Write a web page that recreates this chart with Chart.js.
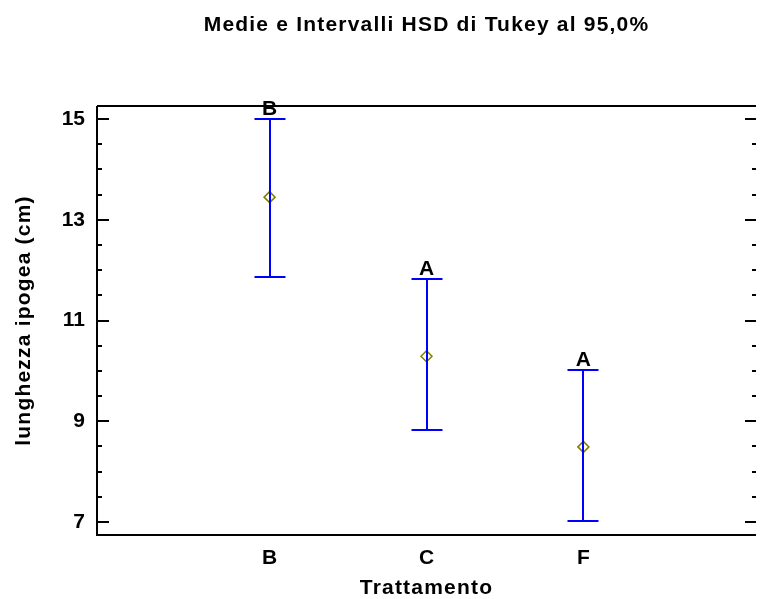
<!DOCTYPE html>
<html><head><meta charset="utf-8">
<script src="https://cdn.jsdelivr.net/npm/chart.js@4.4.0/dist/chart.umd.min.js"></script>
<style>html,body{margin:0;padding:0;background:#fff;} canvas{display:block;}</style>
</head><body>
<canvas id="c" width="763" height="599"></canvas>
<script>
// ---- data ----
const categories = ['B', 'C', 'F'];
const categoryPos = [1, 2, 3];
const means = [13.45, 10.29, 8.49];
const lowerLimits = [11.86, 8.82, 7.02];
const upperLimits = [15.0, 11.82, 10.02];
const groupLetters = ['B', 'A', 'A'];
const yTickValues = [7, 9, 11, 13, 15];
const yMinorPerMajor = 4;

const FONT = "'Liberation Sans', Arial, sans-serif";
const SIZE = 21;
const SPACING = '1.2px';

const spacingPlugin = {
  id: 'spacing',
  beforeUpdate(chart) { chart.ctx.letterSpacing = SPACING; },
  afterUpdate(chart) {
    ['x', 'y'].forEach(id => {
      const s = chart.scales[id];
      if (s && !s._noSpacing) {
        const orig = s.drawLabels;
        s.drawLabels = function (area) {
          const ctx = this.ctx;
          const prev = ctx.letterSpacing;
          ctx.letterSpacing = '0px';
          orig.call(this, area);
          ctx.letterSpacing = prev;
        };
        s._noSpacing = true;
      }
    });
  },
  beforeDraw(chart) { chart.ctx.letterSpacing = SPACING; }
};

const framePlugin = {
  id: 'frame',
  afterDatasetsDraw(chart) {
    const { ctx, chartArea: a, scales: { x, y } } = chart;
    ctx.save();
    // error bars
    ctx.strokeStyle = '#0000ff';
    ctx.lineWidth = 2;
    const capHalf = 15.5;
    categoryPos.forEach((p, i) => {
      const px = Math.round(x.getPixelForValue(p));
      const yl = Math.round(y.getPixelForValue(lowerLimits[i]));
      const yu = Math.round(y.getPixelForValue(upperLimits[i]));
      ctx.beginPath();
      ctx.moveTo(px, yl); ctx.lineTo(px, yu);
      ctx.moveTo(px - capHalf, yu); ctx.lineTo(px + capHalf, yu);
      ctx.moveTo(px - capHalf, yl); ctx.lineTo(px + capHalf, yl);
      ctx.stroke();
    });
    // group letters
    ctx.letterSpacing = '0px';
    ctx.fillStyle = '#000';
    ctx.font = 'bold ' + SIZE + 'px ' + FONT;
    ctx.textAlign = 'center';
    ctx.textBaseline = 'alphabetic';
    categoryPos.forEach((p, i) => {
      const px = x.getPixelForValue(p);
      const yu = y.getPixelForValue(upperLimits[i]);
      ctx.fillText(groupLetters[i], px, yu - 4);
    });
    // frame
    ctx.strokeStyle = '#000';
    ctx.lineWidth = 2;
    ctx.beginPath();
    ctx.moveTo(a.left, a.top); ctx.lineTo(a.left, a.bottom); ctx.lineTo(a.right, a.bottom);
    ctx.moveTo(a.left, a.top); ctx.lineTo(a.right, a.top);
    ctx.stroke();
    // ticks
    ctx.beginPath();
    for (let k = 0; k < yTickValues.length; k++) {
      const v = yTickValues[k];
      const py = Math.round(y.getPixelForValue(v));
      ctx.moveTo(a.left, py); ctx.lineTo(a.left + 12, py);
      ctx.moveTo(a.right - 11, py); ctx.lineTo(a.right, py);
      if (k < yTickValues.length - 1) {
        const step = (yTickValues[k + 1] - v) / yMinorPerMajor;
        for (let m = 1; m < yMinorPerMajor; m++) {
          const my = Math.round(y.getPixelForValue(v + m * step));
          ctx.moveTo(a.left, my); ctx.lineTo(a.left + 5, my);
          ctx.moveTo(a.right - 4, my); ctx.lineTo(a.right, my);
        }
      }
    }
    ctx.stroke();
    ctx.restore();
  }
};

new Chart(document.getElementById('c'), {
  type: 'scatter',
  data: {
    datasets: [{
      data: categoryPos.map((p, i) => ({ x: p, y: means[i] })),
      pointStyle: 'rectRot',
      pointRadius: 5.5,
      pointHoverRadius: 5.5,
      borderColor: '#808000',
      backgroundColor: 'rgba(0,0,0,0)',
      borderWidth: 1.5
    }]
  },
  options: {
    responsive: false,
    animation: false,
    devicePixelRatio: 1,
    layout: { padding: 0 },
    plugins: {
      legend: { display: false },
      tooltip: { enabled: false },
      title: {
        display: true,
        text: 'Medie e Intervalli HSD di Tukey al 95,0%',
        fullSize: false,
        color: '#000',
        font: { family: FONT, size: SIZE, weight: 'bold', lineHeight: 1.2 },
        padding: { top: 12.5, bottom: 68.3 }
      }
    },
    scales: {
      x: {
        type: 'linear',
        min: -0.1,
        max: 4.1,
        afterBuildTicks(s) { s.ticks = categoryPos.map(v => ({ value: v })); },
        afterFit(s) { s.height = 64; },
        ticks: {
          autoSkip: false, maxRotation: 0, color: '#000', padding: 11,
          font: { family: FONT, size: SIZE, weight: 'bold' },
          callback: (v, i) => categories[i]
        },
        grid: { display: false, drawTicks: false },
        border: { display: false },
        title: {
          display: true, text: 'Trattamento', color: '#000',
          font: { family: FONT, size: SIZE, weight: 'bold', lineHeight: 1 },
          padding: { top: 0, bottom: 0.5 }
        }
      },
      y: {
        type: 'linear',
        position: 'left',
        min: 6.74,
        max: 15.26,
        afterBuildTicks(s) { s.ticks = yTickValues.map(v => ({ value: v })); },
        afterFit(s) { s.width = 97; },
        ticks: {
          color: '#000', padding: 12,
          font: { family: FONT, size: SIZE, weight: 'bold' }
        },
        grid: { display: false, drawTicks: false },
        border: { display: false },
        title: {
          display: true, text: 'lunghezza ipogea (cm)', color: '#000',
          font: { family: FONT, size: SIZE, weight: 'bold', lineHeight: 1 },
          padding: { top: 14, bottom: 0 }
        }
      }
    }
  },
  plugins: [spacingPlugin, framePlugin]
});
</script>
</body></html>
